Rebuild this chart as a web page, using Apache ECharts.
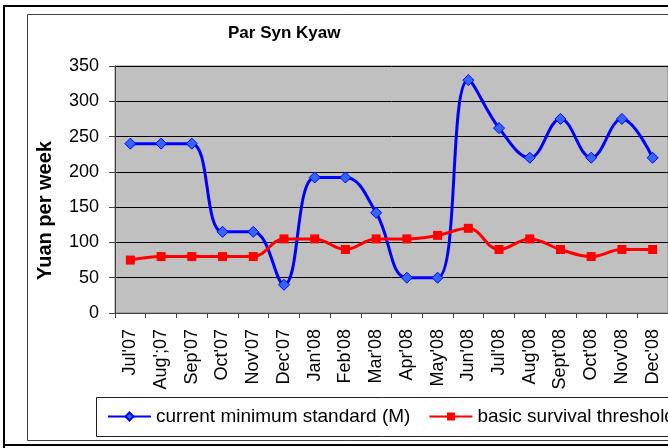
<!DOCTYPE html>
<html>
<head>
<meta charset="utf-8">
<script src="https://cdn.jsdelivr.net/npm/echarts@6/dist/echarts.min.js"></script>
<style>
  html, body { margin: 0; padding: 0; background: #fff; }
  #chart { width: 668px; height: 448px; }
</style>
</head>
<body>
<div id="chart"></div>
<script>
// months along the x axis (labels kept as written in the original sheet)
var months = ["Jul'07", "Aug';07", "Sep'07", "Oct'07", "Nov'07", "Dec'07", "Jan'08", "Feb'08", "Mar'08",
  "Apr'08", "May'08", "Jun'08", "Jul'08", "Aug'08", "Sept'08", "Oct'08", "Nov'08", "Dec'08"]

var currentMinimum = [240, 240, 240, 115, 115, 40, 192, 192, 142, 50, 50, 330, 262, 220, 275, 220, 275, 220]
var survivalThreshold = [75, 80, 80, 80, 80, 105, 105, 90, 105, 105, 110, 120, 90, 105, 90, 80, 90, 90]

var yTicks = { min: 0, max: 350, step: 50 }

var myChart = echarts.init(document.getElementById('chart'))
var option = {
  animation: false,
  backgroundColor: '#fff',
  textStyle: { fontFamily: 'Liberation Sans, Arial, sans-serif' },
  title: {
    text: 'Par Syn Kyaw',
    left: 228,
    top: 25,
    padding: 0,
    textStyle: { fontSize: 17, fontWeight: 'bold', color: '#000' }
  },
  graphic: [
    // page frame around the chart
    { type: 'line', shape: { x1: 3, y1: 6, x2: 668, y2: 6 }, style: { stroke: '#000', lineWidth: 2 } },
    { type: 'line', shape: { x1: 4, y1: 5, x2: 4, y2: 448 }, style: { stroke: '#000', lineWidth: 2 } },
    { type: 'line', shape: { x1: 3, y1: 445, x2: 668, y2: 445 }, style: { stroke: '#000', lineWidth: 2 } },
    // chart area border
    { type: 'rect', shape: { x: 27.5, y: 14.5, width: 700, height: 426 }, style: { fill: null, stroke: '#404040', lineWidth: 1 } },
    // legend box
    { type: 'rect', shape: { x: 96.5, y: 397.5, width: 700, height: 39 }, style: { fill: null, stroke: '#202020', lineWidth: 1 } }
  ],
  legend: {
    left: 107,
    top: 407,
    width: 800,
    padding: 0,
    itemWidth: 43,
    itemHeight: 10,
    itemGap: 18,
    textStyle: { fontSize: 19, color: '#000' },
    data: ['current minimum standard (M)', 'basic survival threshold']
  },
  grid: {
    left: 115,
    top: 66,
    right: -8,
    bottom: 135,
    show: true,
    backgroundColor: '#C0C0C0',
    borderColor: '#808080',
    borderWidth: 1
  },
  xAxis: {
    type: 'category',
    data: months,
    boundaryGap: true,
    axisLine: { lineStyle: { color: '#404040', width: 1 } },
    axisTick: { show: true, length: 5, alignWithLabel: false, interval: 0, lineStyle: { color: '#404040' } },
    axisLabel: { rotate: 90, interval: 0, margin: 16, fontSize: 18, color: '#000' }
  },
  yAxis: {
    type: 'value',
    min: yTicks.min,
    max: yTicks.max,
    interval: yTicks.step,
    name: 'Yuan per week',
    nameLocation: 'middle',
    nameGap: 60,
    nameTextStyle: { fontSize: 20, fontWeight: 'bold', color: '#000', padding: [0, 42, 0, 0] },
    axisLine: { show: true, lineStyle: { color: '#404040', width: 1 } },
    axisTick: { show: true, length: 6, lineStyle: { color: '#404040' } },
    axisLabel: { margin: 16, fontSize: 18, color: '#000' },
    splitLine: { show: true, lineStyle: { color: '#000', width: 1 } }
  },
  series: [
    {
      name: 'current minimum standard (M)',
      type: 'line',
      smooth: 0.4,
      data: currentMinimum,
      symbol: 'diamond',
      symbolSize: 11,
      lineStyle: { color: '#0000FF', width: 3 },
      itemStyle: { color: '#3366FF', borderColor: '#0000FF', borderWidth: 1 }
    },
    {
      name: 'basic survival threshold',
      type: 'line',
      smooth: 0.4,
      data: survivalThreshold,
      symbol: 'rect',
      symbolSize: 9,
      lineStyle: { color: '#FF0000', width: 3 },
      itemStyle: { color: '#FF0000', borderColor: '#FF0000', borderWidth: 0 }
    }
  ]
}
myChart.setOption(option)
</script>
</body>
</html>
